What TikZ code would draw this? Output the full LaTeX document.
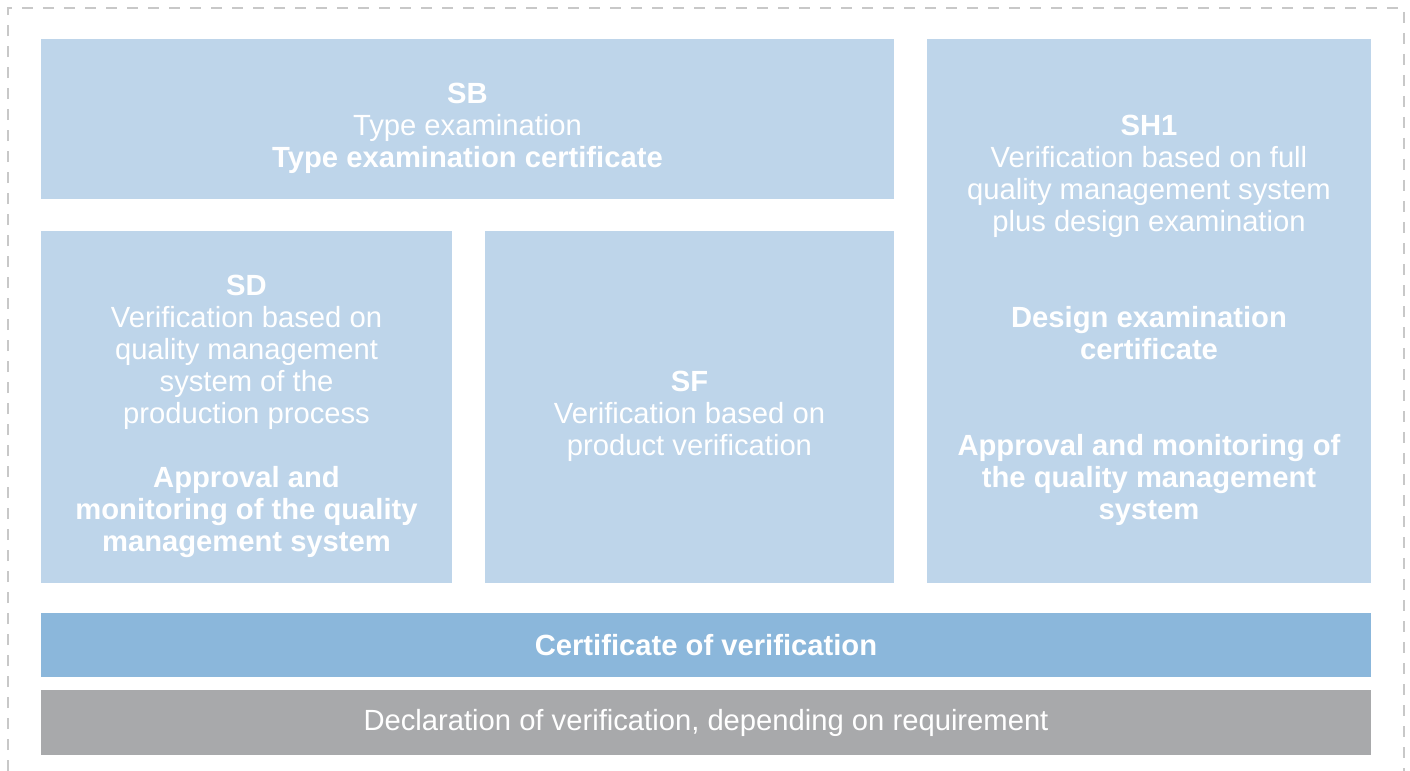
\documentclass[tikz,border=0pt]{standalone}
\usepackage{fontspec}
\setmainfont{Liberation Sans}
\usetikzlibrary{positioning}
\definecolor{modblue}{HTML}{BED5EA}
\definecolor{certblue}{HTML}{8BB7DB}
\definecolor{declgray}{HTML}{A8A9AB}
\definecolor{framegray}{HTML}{C8C8C8}

\begin{document}
\begin{tikzpicture}[
    x=0.5pt, y=-0.5pt,
    font=\fontsize{14.6pt}{16pt}\selectfont,
    % ── shared styles ──
    module box/.style={fill=modblue, text=white, align=center,
        inner sep=0pt, outer sep=0pt},
    module text/.style={text=white, align=center, inner sep=0pt, yshift=-4.5pt},
    cert bar/.style={module box, fill=certblue, font=\fontsize{14.6pt}{16pt}\selectfont\bfseries},
    decl bar/.style={module box, fill=declgray},
    outer frame/.style={draw=framegray, line width=1.1pt,
        dash pattern=on 5.5pt off 5pt},
]

% ══════════════════════════════════════════════════════════════════════
%  DIMENSIONS
% ══════════════════════════════════════════════════════════════════════
\def\gap{\\[16pt]}
\useasboundingbox (0,0) rectangle (1410,771);

% ══════════════════════════════════════════════════════════════════════
%  OUTER FRAME
% ══════════════════════════════════════════════════════════════════════
\draw[outer frame] (8,771) -- (8,8) -- (1404,8) -- (1404,771);

% ══════════════════════════════════════════════════════════════════════
%  MODULES
% ══════════════════════════════════════════════════════════════════════
\node[module box, minimum width=426.5pt, minimum height=80pt] (sb) at (467.5,119) {};
\node[module box, minimum width=205.5pt, minimum height=176pt] (sd) at (246.5,407) {};
\node[module box, minimum width=204.5pt, minimum height=176pt] (sf) at (689.5,407) {};
\node[module box, minimum width=222pt, minimum height=272pt] (sh) at (1149,311) {};

\node[module text] (sb text) at (sb.center)
    {\textbf{SB}\\Type examination\\\textbf{Type examination certificate}};
\node[module text] (sd text) at (sd.center)
    {\textbf{SD}\\Verification based on\\quality management\\system of the\\production process\gap
     \textbf{Approval and}\\\textbf{monitoring of the quality}\\\textbf{management system}};
\node[module text] (sf text) at (sf.center)
    {\textbf{SF}\\Verification based on\\product verification};
\node[module text] (sh text) at (sh.center)
    {\textbf{SH1}\\Verification based on full\\quality management system\\plus design examination\\[32pt]
     \textbf{Design examination}\\\textbf{certificate}\\[32pt]
     \textbf{Approval and monitoring of}\\\textbf{the quality management}\\\textbf{system}};

% ══════════════════════════════════════════════════════════════════════
%  RESULT BARS
% ══════════════════════════════════════════════════════════════════════
\node[cert bar, minimum width=665pt, minimum height=32pt] (cert) at (706,645)
    {Certificate of verification};
\node[decl bar, minimum width=665pt, minimum height=32.5pt] (decl) at (706,722.5)
    {Declaration of verification, depending on requirement};

\end{tikzpicture}
\end{document}
